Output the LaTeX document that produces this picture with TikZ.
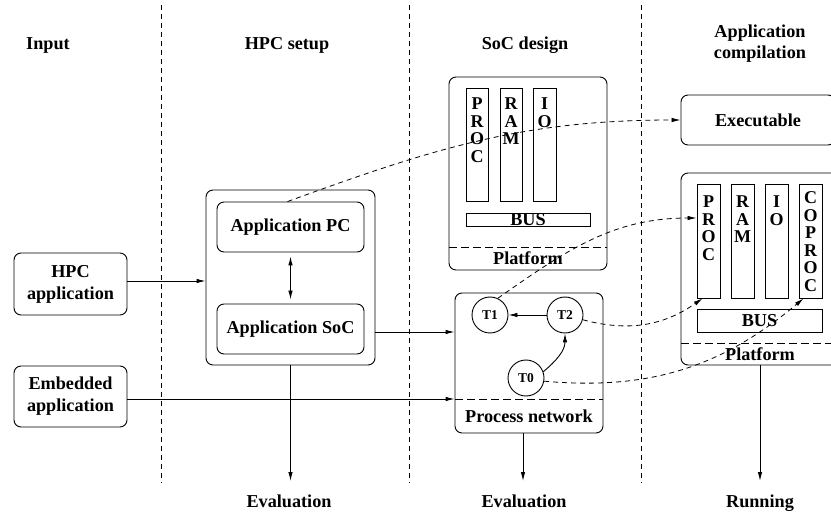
\documentclass[tikz,border=0pt]{standalone}
\usepackage{fontspec}
\setmainfont{Liberation Serif}
\usetikzlibrary{arrows.meta}
\begin{document}
\begin{tikzpicture}[x=1pt,y=-1pt,
  every node/.style={font=\fontsize{18.2}{22}\selectfont\bfseries, inner sep=0pt, align=center},
  box/.style={draw, rounded corners=7pt, line width=0.9pt},
  bar/.style={draw, line width=0.9pt, rectangle},
  letters/.style={anchor=north, font=\fontsize{18}{17.5}\selectfont\bfseries},
  tnode/.style={draw, circle, line width=0.9pt, minimum size=36pt, font=\fontsize{13.5}{15}\selectfont\bfseries},
  arr/.style={line width=0.9pt, -{Latex[length=9pt,width=4.5pt]}},
  dasharr/.style={line width=0.8pt, dash pattern=on 5pt off 4pt, -{Latex[length=9pt,width=4.5pt]}},
  divider/.style={line width=0.8pt, dash pattern=on 5pt off 4pt},
  inner/.style={line width=0.9pt, dash pattern=on 8pt off 4pt},
  hdr/.style={anchor=base}
]
\useasboundingbox (0,0) rectangle (831,513);
\clip (0,0) rectangle (831,513);

% column dividers
\draw[divider] (161,5) -- (161,483);
\draw[divider] (409,5) -- (409,483);
\draw[divider] (641,5) -- (641,483);

% headers
\node[hdr] (hin) at (48,50) {Input};
\node[hdr] (hsetup) at (287,50) {HPC setup};
\node[hdr] (hsoc) at (525,50) {SoC design};
\node[hdr] (hcomp1) at (760,38) {Application};
\node[hdr] (hcomp2) at (760,59) {compilation};

% bottom labels
\node[hdr] (eval1) at (289,507) {Evaluation};
\node[hdr] (eval2) at (524,507) {Evaluation};
\node[hdr] (run) at (760,507) {Running};

% input boxes
\node[box, minimum width=113pt, minimum height=62pt] (hpc) at (70.5,284) {HPC\\application};
\node[box, minimum width=113pt, minimum height=61pt] (emb) at (70.5,396.5) {Embedded\\application};

% HPC setup
\node[box, minimum width=169pt, minimum height=175pt] (setup) at (290.5,277.5) {};
\node[box, minimum width=147pt, minimum height=50pt] (apc) at (290.5,227) {Application PC};
\node[box, minimum width=147pt, minimum height=50pt] (asoc) at (290.5,329) {Application SoC};

% SoC design platform
\node[box, minimum width=158pt, minimum height=193pt] (splat) at (528,173.5) {};
\node[bar, minimum width=22pt, minimum height=113pt] (sproc) at (477,144.5) {};
\node[bar, minimum width=22pt, minimum height=113pt] (sram) at (511,144.5) {};
\node[bar, minimum width=23pt, minimum height=113pt] (sio) at (544.5,144.5) {};
\node[letters] (sprocl) at ([yshift=-10pt]sproc.north) {P\\R\\O\\C};
\node[letters] (sraml) at ([yshift=-10pt]sram.north) {R\\A\\M};
\node[letters] (siol) at ([yshift=-10pt]sio.north) {I\\O};
\node[bar, minimum width=124pt, minimum height=13pt] (sbus) at (528,219.5) {BUS};
\draw[inner] (449,247) -- (607,247);
\node (splatl) at (528,258) {Platform};

% Executable
\node[box, minimum width=154pt, minimum height=50pt] (exe) at (758,120) {Executable};

% right platform
\node[box, minimum width=158pt, minimum height=192pt] (rplat) at (760,269) {};
\node[bar, minimum width=23pt, minimum height=114pt] (rproc) at (708.5,241) {};
\node[bar, minimum width=23pt, minimum height=114pt] (rram) at (742.5,241) {};
\node[bar, minimum width=23pt, minimum height=114pt] (rio) at (776.5,241) {};
\node[bar, minimum width=23pt, minimum height=114pt] (rcop) at (810.5,241) {};
\node[letters] (rprocl) at ([yshift=-12pt]rproc.north) {P\\R\\O\\C};
\node[letters] (rraml) at ([yshift=-12pt]rram.north) {R\\A\\M};
\node[letters] (riol) at ([yshift=-12pt]rio.north) {I\\O};
\node[letters] (rcopl) at ([yshift=-8pt]rcop.north) {C\\O\\P\\R\\O\\C};
\node[bar, minimum width=125pt, minimum height=23pt] (rbus) at (759.5,320.5) {BUS};
\draw[inner] (681,343) -- (839,343);
\node (rplatl) at (760,354) {Platform};

% process network
\node[box, minimum width=148pt, minimum height=140pt] (pn) at (529,363) {};
\draw[inner] (455,399) -- (603,399);
\node (pnl) at (529,416) {Process network};
\node[tnode] (T1) at (490,315) {T1};
\node[tnode] (T2) at (565,315) {T2};
\node[tnode] (T0) at (526,378) {T0};

% endpoints of the downward arrows
\coordinate (e1tip) at (290.5,481);
\coordinate (e2tip) at (523,481);
\coordinate (e3tip) at (760,481);

% connectors
\draw[arr] ([yshift=3pt]hpc.east) -- ([yshift=3pt]hpc.east -| setup.west);
\draw[arr] ([yshift=-2.5pt]emb.east) -- ([yshift=-2.5pt]emb.east -| pn.west);
\draw[arr] ([yshift=-3pt]asoc.east -| setup.east) -- ([yshift=-3pt]asoc.east -| pn.west);
\draw[line width=0.9pt, {Latex[length=9pt,width=4.5pt]}-{Latex[length=9pt,width=4.5pt]}] ([yshift=-4pt]apc.south) -- ([yshift=4pt]asoc.north);
\draw[arr] (setup.south) -- (e1tip);
\draw[arr] (e2tip |- pn.south) -- (e2tip);
\draw[arr] (rplat.south) -- (e3tip);
\draw[arr] (T2) -- (T1);
\draw[arr] (T0.20) to[out=40,in=-90] (T2.south);

% dashed mapping curves
\draw[dasharr] ([xshift=-3pt]apc.north) to[out=20,in=180] (exe.west);
\draw[dasharr] (T1.65) to[out=35,in=180] ([yshift=23pt]rproc.west);
\draw[dasharr] (T2.-15) to[out=-15,in=215] ([xshift=-6pt]rproc.south);
\draw[dasharr] (T0.-10) to[out=-5,in=220] ([xshift=-7pt]rcop.south);
\end{tikzpicture}
\end{document}
